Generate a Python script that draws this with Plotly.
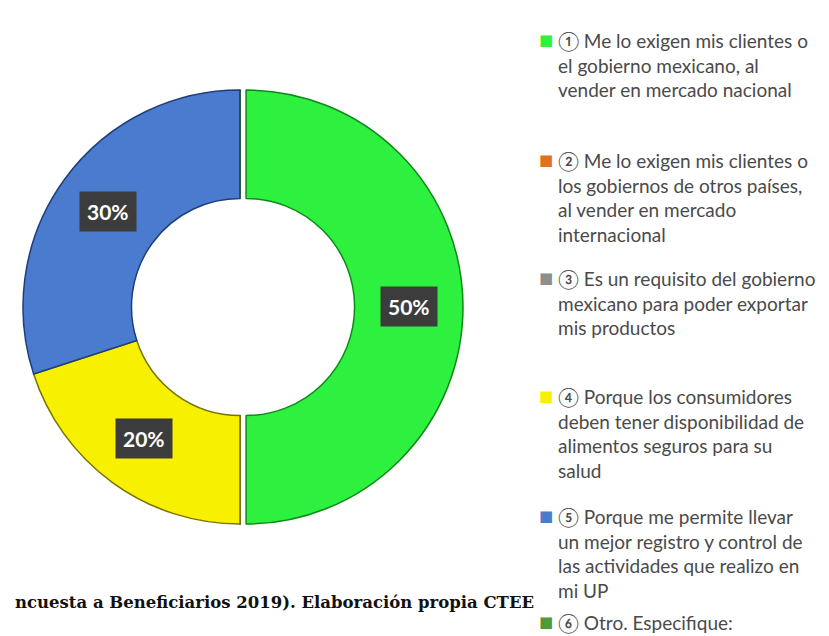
"""Donut chart: motivos para cumplir requisitos de inocuidad."""
import math

import plotly.graph_objects as go

# ---- data ----
categories = [
    "① Me lo exigen mis clientes o<br>el gobierno mexicano, al<br>vender en mercado nacional",
    "② Me lo exigen mis clientes o<br>los gobiernos de otros países,<br>al vender en mercado<br>internacional",
    "③ Es un requisito del gobierno<br>mexicano para poder exportar<br>mis productos",
    "④ Porque los consumidores<br>deben tener disponibilidad de<br>alimentos seguros para su<br>salud",
    "⑤ Porque me permite llevar<br>un mejor registro y control de<br>las actividades que realizo en<br>mi UP",
    "⑥ Otro. Especifique:",
]
shares = [50, 0, 0, 20, 30, 0]
colors = ["#2DF03F", "#E0711E", "#8E8E8E", "#F7F000", "#4B7BCF", "#4E9A3A"]
edge_colors = ["#0E8A1A", "#8A3E08", "#4A4A4A", "#7A7400", "#1F3F7A", "#24551A"]
pulls = [0.028, 0, 0, 0, 0, 0]
source_note = "ncuesta a Beneficiarios 2019). Elaboración propia CTEE"

# ---- layout constants ----
W, H = 829, 636
CX, CY, R = 232, 299, 217   # donut centre / radius in px (from top-left)
HOLE = 0.5
half = R * (1 + max(pulls))

fig = go.Figure()
fig.add_trace(
    go.Pie(
        labels=[c.split("<br>")[0] for c in categories],
        values=shares,
        hole=HOLE,
        sort=False,
        direction="clockwise",
        rotation=0,
        pull=pulls,
        marker=dict(colors=colors, line=dict(color=edge_colors, width=1.5)),
        textinfo="none",
        hoverinfo="label+percent",
        showlegend=False,
        domain=dict(
            x=[(CX - half) / W, (CX + half) / W],
            y=[1 - (CY + half) / H, 1 - (CY - half) / H],
        ),
    )
)

# percentage labels in dark boxes, centred on the middle of each slice
total = sum(shares)
cum = 0
for val, pull in zip(shares, pulls):
    if val == 0:
        continue
    mid = (cum + val / 2) / total
    cum += val
    ang = math.pi / 2 - 2 * math.pi * mid
    r = R * ((1 + HOLE) / 2 + pull)
    fig.add_annotation(
        xref="paper", yref="paper",
        x=(CX + r * math.cos(ang)) / W,
        y=1 - (CY - r * math.sin(ang)) / H,
        xanchor="center", yanchor="middle",
        text=f"<b>{round(val / total * 100)}%</b>",
        showarrow=False,
        font=dict(family="Lato, sans-serif", size=21, color="white"),
        bgcolor="#3C3C3C",
        borderpad=7,
    )

# custom legend (first-line centre of each entry, px from top)
legend_tops = [32, 152, 270, 388, 508, 614]
for label, col, yc in zip(categories, colors, legend_tops):
    fig.add_annotation(
        xref="paper", yref="paper",
        x=529 / W, y=1 - yc / H,
        xanchor="left", yanchor="middle",
        text="■", showarrow=False,
        font=dict(family="DejaVu Sans", size=15, color=col),
    )
    fig.add_annotation(
        xref="paper", yref="paper",
        x=548 / W, y=1 - (yc - 13) / H,
        xanchor="left", yanchor="top", align="left",
        text=label, showarrow=False,
        font=dict(family="Lato, sans-serif", size=19, color="#4A4A4A"),
    )

fig.add_annotation(
    xref="paper", yref="paper",
    x=528 / W, y=1 - 594 / H,
    xanchor="right", yanchor="middle",
    text=f"<b>{source_note}</b>", showarrow=False,
    font=dict(family="DejaVu Serif, serif", size=16.5, color="#111111"),
)

fig.update_layout(
    width=W, height=H,
    margin=dict(l=0, r=0, t=0, b=0),
    paper_bgcolor="white",
    plot_bgcolor="white",
)
fig.write_html("out.html")
